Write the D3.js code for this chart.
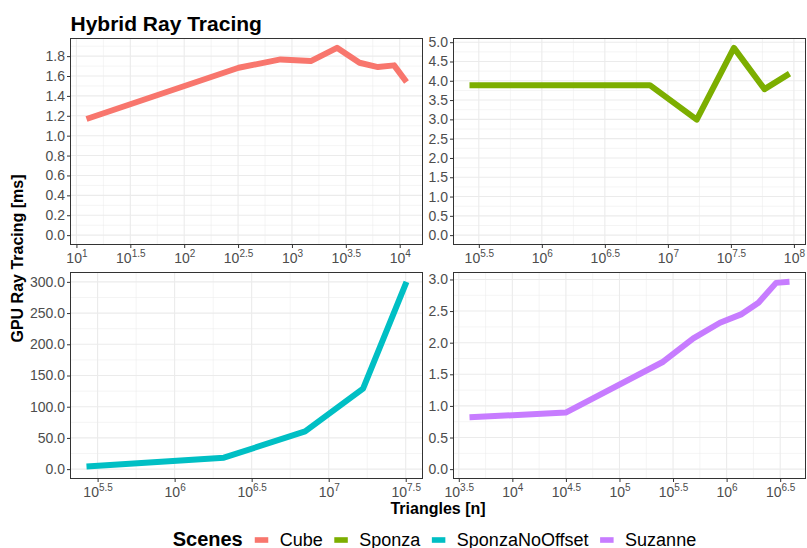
<!DOCTYPE html>
<html>
<head>
<meta charset="utf-8">
<script src="https://cdn.jsdelivr.net/npm/d3@7"></script>
<style>
  body { margin: 0; background: #fff; }
  svg { display: block; }
  text { font-family: "Liberation Sans", Arial, Helvetica, sans-serif; }
</style>
</head>
<body>
<svg id="chart" width="807" height="548"></svg>
<script>
// Scenes and their colours
const scenes = ["Cube", "Sponza", "SponzaNoOffset", "Suzanne"];
const sceneColors = ["#F8766D", "#7CAE00", "#00BFC4", "#C77CFF"];

// Triangle counts and GPU ray tracing time [ms] per scene
const cubeTriangles = [12.4, 320, 783, 1496, 2618, 4236, 6281, 8872, 11561];
const cubeMs        = [1.168, 1.683, 1.767, 1.750, 1.883, 1.733, 1.690, 1.707, 1.540];

const sponzaTriangles = [266700, 7194000, 16940000, 33420000, 58480000, 92260000];
const sponzaMs        = [3.886, 3.886, 2.993, 4.853, 3.783, 4.185];

const noOffsetTriangles = [267900, 2089000, 7031000, 16710000, 31990000];
const noOffsetMs        = [4.3, 18.3, 60.5, 129.0, 300.0];

const suzanneTriangles = [3981, 31480, 255900, 488700, 867000, 1384000, 1982000, 2897000, 3864000];
const suzanneMs        = [0.821, 0.894, 1.699, 2.068, 2.315, 2.452, 2.630, 2.946, 2.962];

// Axis ticks: x ticks are powers of ten given by their exponent
const cubeXExp     = [1, 1.5, 2, 2.5, 3, 3.5, 4];
const sponzaXExp   = [5.5, 6, 6.5, 7, 7.5, 8];
const noOffsetXExp = [5.5, 6, 6.5, 7, 7.5];
const suzanneXExp  = [3.5, 4, 4.5, 5, 5.5, 6, 6.5];

const cubeYTicks     = [0, 0.2, 0.4, 0.6, 0.8, 1.0, 1.2, 1.4, 1.6, 1.8];
const sponzaYTicks   = [0, 0.5, 1, 1.5, 2, 2.5, 3, 3.5, 4, 4.5, 5];
const noOffsetYTicks = [0, 50, 100, 150, 200, 250, 300];
const suzanneYTicks  = [0, 0.5, 1, 1.5, 2, 2.5, 3];

const titleText = "Hybrid Ray Tracing";
const xTitle = "Triangles [n]";
const yTitle = "GPU Ray Tracing [ms]";
const legendTitle = "Scenes";

// ---- layout ----
const svg = d3.select("#chart");
const W = 807, H = 548;
const cols = [[70.5, 422.5], [453.5, 805.5]];
const rows = [[38.5, 244.5], [272.5, 478.5]];

const panels = [
  { name: scenes[0], color: sceneColors[0], xs: cubeTriangles,     ys: cubeMs,     xExp: cubeXExp,     yTicks: cubeYTicks,     col: 0, row: 0 },
  { name: scenes[1], color: sceneColors[1], xs: sponzaTriangles,   ys: sponzaMs,   xExp: sponzaXExp,   yTicks: sponzaYTicks,   col: 1, row: 0 },
  { name: scenes[2], color: sceneColors[2], xs: noOffsetTriangles, ys: noOffsetMs, xExp: noOffsetXExp, yTicks: noOffsetYTicks, col: 0, row: 1 },
  { name: scenes[3], color: sceneColors[3], xs: suzanneTriangles,  ys: suzanneMs,  xExp: suzanneXExp,  yTicks: suzanneYTicks,  col: 1, row: 1 }
];

const gridColor = "#EBEBEB";
const inkColor = "#333333";
const labelColor = "#4D4D4D";

panels.forEach(p => {
  const [x0, x1] = cols[p.col];
  const [y0, y1] = rows[p.row];

  // 5% expansion of the data range (log space for x, zero included for y)
  const lx = d3.extent(p.xs, v => Math.log10(v));
  const ex = (lx[1] - lx[0]) * 0.05;
  const x = d3.scaleLog().domain([10 ** (lx[0] - ex), 10 ** (lx[1] + ex)]).range([x0, x1]);
  const yMax = d3.max(p.ys);
  const ey = yMax * 0.05;
  const y = d3.scaleLinear().domain([-ey, yMax + ey]).range([y1, y0]);

  const g = svg.append("g");

  // minor grid (half way between major ticks)
  const xMinor = p.xExp.slice(0, -1).map((e, i) => (e + p.xExp[i + 1]) / 2);
  const lxDom = x.domain().map(Math.log10);
  const stepX = p.xExp[1] - p.xExp[0];
  [p.xExp[0] - stepX / 2, p.xExp[p.xExp.length - 1] + stepX / 2].forEach(e => {
    if (e > lxDom[0] && e < lxDom[1]) xMinor.push(e);
  });
  const stepY = p.yTicks[1] - p.yTicks[0];
  const yMinor = p.yTicks.map(t => t + stepY / 2).concat([p.yTicks[0] - stepY / 2])
    .filter(t => t > y.domain()[0] && t < y.domain()[1]);

  g.append("g").selectAll("line").data(xMinor).join("line")
    .attr("x1", e => x(10 ** e)).attr("x2", e => x(10 ** e))
    .attr("y1", y0).attr("y2", y1)
    .attr("stroke", gridColor).attr("stroke-width", 0.55);
  g.append("g").selectAll("line").data(yMinor).join("line")
    .attr("x1", x0).attr("x2", x1)
    .attr("y1", d => y(d)).attr("y2", d => y(d))
    .attr("stroke", gridColor).attr("stroke-width", 0.55);

  // major grid
  g.append("g").selectAll("line").data(p.xExp).join("line")
    .attr("x1", e => x(10 ** e)).attr("x2", e => x(10 ** e))
    .attr("y1", y0).attr("y2", y1)
    .attr("stroke", gridColor).attr("stroke-width", 1.1);
  g.append("g").selectAll("line").data(p.yTicks).join("line")
    .attr("x1", x0).attr("x2", x1)
    .attr("y1", d => y(d)).attr("y2", d => y(d))
    .attr("stroke", gridColor).attr("stroke-width", 1.1);

  // data line
  const pts = p.xs.map((v, i) => [v, p.ys[i]]);
  g.append("path")
    .datum(pts)
    .attr("d", d3.line().x(d => x(d[0])).y(d => y(d[1])))
    .attr("fill", "none")
    .attr("stroke", p.color)
    .attr("stroke-width", 6)
    .attr("stroke-linejoin", "round")
    .attr("stroke-linecap", "butt");

  // panel border
  g.append("rect")
    .attr("x", x0).attr("y", y0).attr("width", x1 - x0).attr("height", y1 - y0)
    .attr("fill", "none").attr("stroke", inkColor).attr("stroke-width", 1);

  // y axis
  const yAxis = g.append("g").attr("transform", `translate(${x0},0)`)
    .call(d3.axisLeft(y).tickValues(p.yTicks).tickFormat(d3.format(".1f")).tickSize(3.5).tickPadding(2));
  yAxis.select(".domain").remove();
  yAxis.selectAll(".tick line").attr("stroke", inkColor);
  yAxis.selectAll(".tick text")
    .attr("fill", labelColor).attr("font-size", 14)
    .attr("font-family", "Liberation Sans, Arial, sans-serif");

  // x axis with 10^k labels
  const xAxis = g.append("g").attr("transform", `translate(0,${y1})`)
    .call(d3.axisBottom(x).tickValues(p.xExp.map(e => 10 ** e)).tickFormat(() => "").tickSize(3.5));
  xAxis.select(".domain").remove();
  xAxis.selectAll(".tick line").attr("stroke", inkColor);
  xAxis.selectAll(".tick text").each(function (d) {
    const t = d3.select(this);
    const e = Math.round(Math.log10(d) * 10) / 10;
    t.attr("y", 18.5).attr("dy", null)
      .attr("fill", labelColor).attr("font-size", 14)
      .attr("font-family", "Liberation Sans, Arial, sans-serif")
      .attr("text-anchor", "middle");
    t.text(null);
    t.append("tspan").text("10");
    t.append("tspan").attr("dy", -6).attr("font-size", 10).text(String(e));
  });
});

// title
svg.append("text")
  .attr("x", 70.5).attr("y", 30.5)
  .attr("font-size", 21).attr("font-weight", "bold").attr("fill", "#000")
  .text(titleText);

// axis titles
svg.append("text")
  .attr("x", (cols[0][0] + cols[1][1]) / 2).attr("y", 514)
  .attr("text-anchor", "middle")
  .attr("font-size", 16).attr("font-weight", "bold").attr("fill", "#000")
  .text(xTitle);

svg.append("text")
  .attr("transform", `translate(22.5,${(rows[0][0] + rows[1][1]) / 2}) rotate(-90)`)
  .attr("text-anchor", "middle")
  .attr("font-size", 16).attr("font-weight", "bold").attr("fill", "#000")
  .text(yTitle);

// legend
const legend = svg.append("g");
const legY = 545.5;
let lx = 172.7;
const lt = legend.append("text")
  .attr("x", lx).attr("y", legY)
  .attr("font-size", 20).attr("font-weight", "bold").attr("fill", "#000")
  .text(legendTitle);
lx += lt.node().getComputedTextLength() + 12;
scenes.forEach((s, i) => {
  legend.append("rect")
    .attr("x", lx).attr("y", 537.2).attr("width", 13.5).attr("height", 5.6)
    .attr("fill", sceneColors[i]);
  lx += 13.5 + 11.5;
  const t = legend.append("text")
    .attr("x", lx).attr("y", legY)
    .attr("font-size", 18).attr("fill", "#000")
    .text(s);
  lx += t.node().getComputedTextLength() + 11.5;
});
</script>
</body>
</html>
